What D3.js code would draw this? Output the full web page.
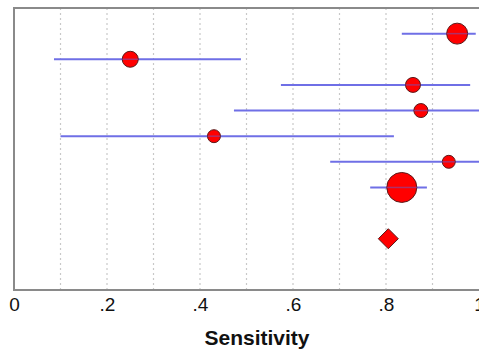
<!DOCTYPE html>
<html>
<head>
<meta charset="utf-8">
<script src="https://cdn.jsdelivr.net/npm/d3@7"></script>
<style>
  body { margin: 0; background: #fff; }
  svg { display: block; font-family: "Liberation Sans", Arial, sans-serif; }
</style>
</head>
<body>
<div id="chart"></div>
<script>
// study estimates (row index, sensitivity, CI, weight)
var rows = [0, 1, 2, 3, 4, 5, 6]
var sens = [0.953, 0.25, 0.858, 0.875, 0.43, 0.935, 0.834]
var lower = [0.834, 0.086, 0.574, 0.473, 0.10, 0.68, 0.766]
var upper = [0.993, 0.488, 0.981, 1.0, 0.817, 1.0, 0.888]
var weights = [110, 64, 56, 49, 42, 42, 225]

// pooled estimate
var pooledRow = 8
var pooledSens = 0.805

var tickVals = [0, 0.2, 0.4, 0.6, 0.8, 1]
var tickLabels = ["0", ".2", ".4", ".6", ".8", "1"]
var gridVals = [0.1, 0.2, 0.3, 0.4, 0.5, 0.6, 0.7, 0.8, 0.9]

var width = 479, height = 350

var svg = d3.select("#chart").append("svg")
    .attr("width", width)
    .attr("height", height)

var x = d3.scaleLinear().domain([0, 1]).range([14, 479])
var y = d3.scaleLinear().domain([-1, 10]).range([8, 290])
var r = d3.scaleSqrt().domain([0, 225]).range([0, 15])

// dotted grid
svg.append("g").selectAll("line")
    .data(gridVals)
    .enter()
    .append("line")
    .attr("x1", d => x(d)).attr("x2", d => x(d))
    .attr("y1", y(-1)).attr("y2", y(10))
    .attr("stroke", "#c8c8c8")
    .attr("stroke-width", 1.2)
    .attr("stroke-dasharray", "2,3")

// frame
var frame = svg.append("g").attr("stroke", "#8a8a8a").attr("stroke-width", 2).attr("fill", "none")
frame.append("path")
    .attr("d", `M${width},${y(-1)} H${x(0)} V${y(10)} H${width}`)

// axis
var axis = d3.axisBottom(x)
    .tickValues(tickVals)
    .tickFormat((d, i) => tickLabels[i])
    .tickSize(0)
    .tickPadding(7.5)

var ax = svg.append("g")
    .attr("transform", `translate(0,${y(10)})`)
    .call(axis)
ax.select(".domain").remove()
ax.selectAll("text")
    .attr("font-size", 19)
    .attr("font-family", "Liberation Sans, Arial, sans-serif")
    .attr("fill", "#111")

svg.append("text")
    .attr("x", 257)
    .attr("y", 345)
    .attr("text-anchor", "middle")
    .attr("font-size", 21)
    .attr("font-weight", "bold")
    .attr("fill", "#111")
    .text("Sensitivity")

// CI lines
svg.append("g").selectAll("line")
    .data(rows)
    .enter()
    .append("line")
    .attr("x1", (d, i) => x(lower[i]))
    .attr("x2", (d, i) => x(upper[i]))
    .attr("y1", d => y(d))
    .attr("y2", d => y(d))
    .attr("stroke", "#6f6fe6")
    .attr("stroke-width", 2)

// points
svg.append("g").selectAll("circle")
    .data(rows)
    .enter()
    .append("circle")
    .attr("cx", (d, i) => x(sens[i]))
    .attr("cy", d => y(d))
    .attr("r", (d, i) => r(weights[i]))
    .attr("fill", "#ff0000")
    .attr("stroke", "#5a1a1a")
    .attr("stroke-width", 1)

// CI line shows through the markers
svg.append("g").selectAll("line")
    .data(rows)
    .enter()
    .append("line")
    .attr("x1", (d, i) => x(sens[i]) - r(weights[i]))
    .attr("x2", (d, i) => x(sens[i]) + r(weights[i]))
    .attr("y1", d => y(d))
    .attr("y2", d => y(d))
    .attr("stroke", "#7a4fb0")
    .attr("stroke-width", 1.5)
    .attr("opacity", 0.6)

// pooled diamond
var px = x(pooledSens), py = y(pooledRow), dw = 10
svg.append("path")
    .attr("d", `M${px - dw},${py} L${px},${py - dw} L${px + dw},${py} L${px},${py + dw} Z`)
    .attr("fill", "#ff0000")
    .attr("stroke", "#5a1a1a")
    .attr("stroke-width", 1)
</script>
</body>
</html>
